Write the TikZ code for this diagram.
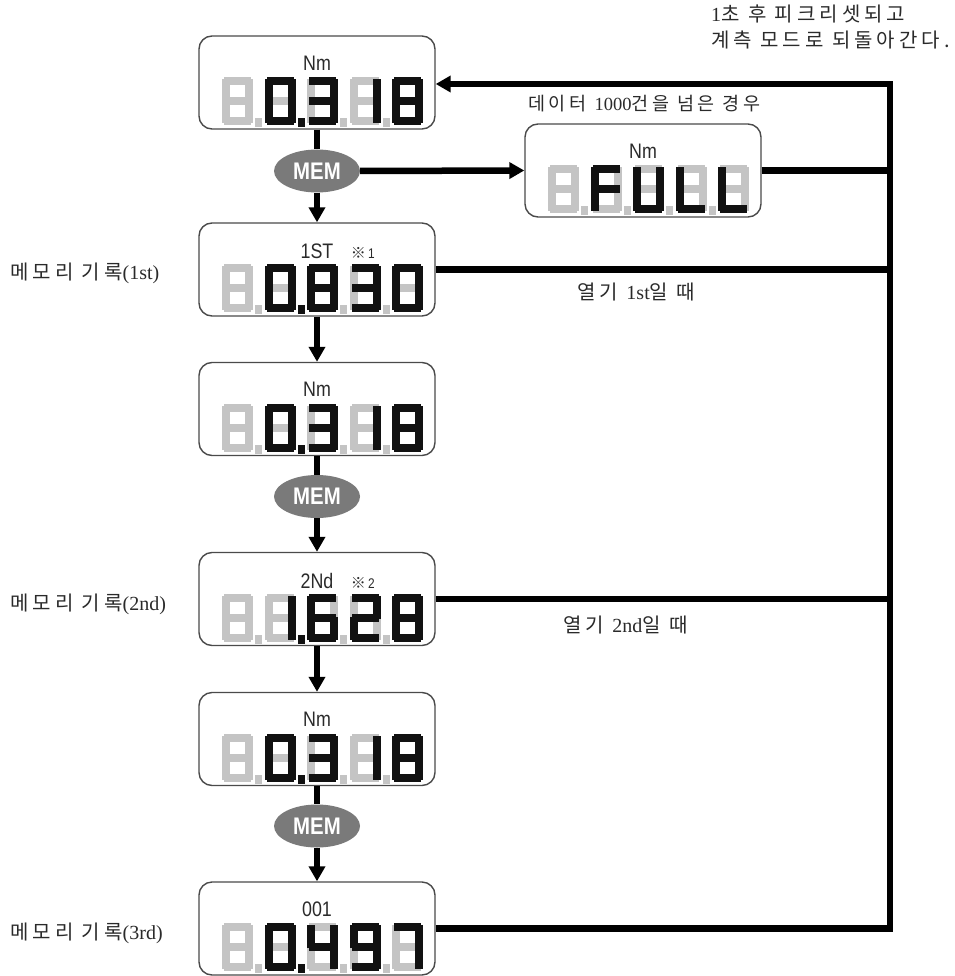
\documentclass[tikz,border=0pt]{standalone}
\usepackage{fontspec}
\setmainfont{Liberation Serif}
\newfontfamily\krf{Noto Sans CJK KR}[LetterSpace=20]
\newfontfamily\lcd{Liberation Sans}[FakeStretch=0.85]
\usetikzlibrary{arrows.meta,shapes.geometric}
\definecolor{segon}{HTML}{111111}
\definecolor{segoff}{HTML}{C4C4C4}
\definecolor{memgray}{HTML}{7A7A7A}
\definecolor{txt}{HTML}{2A2A2A}
\definecolor{boxline}{HTML}{4A4A4A}
% seven segment digit: #1 x, #2 y, #3..#9 = a b c d e f g
\newcommand\sevseg[9]{%
 \begin{scope}[shift={(#1,#2)}]
 \ifnum#3=0 \fill[segoff] (2,0) rectangle (29,8);\fi
 \ifnum#4=0 \fill[segoff] (23,2) rectangle (31,25);\fi
 \ifnum#5=0 \fill[segoff] (23,23) rectangle (31,46);\fi
 \ifnum#6=0 \fill[segoff] (2,40) rectangle (29,48);\fi
 \ifnum#7=0 \fill[segoff] (0,23) rectangle (8,46);\fi
 \ifnum#8=0 \fill[segoff] (0,2) rectangle (8,25);\fi
 \ifnum#9=0 \fill[segoff] (2,20) rectangle (29,28);\fi
 \ifnum#3=1 \fill[segon] (2,0) rectangle (29,8);\fi
 \ifnum#4=1 \fill[segon] (23,2) rectangle (31,25);\fi
 \ifnum#5=1 \fill[segon] (23,23) rectangle (31,46);\fi
 \ifnum#6=1 \fill[segon] (2,40) rectangle (29,48);\fi
 \ifnum#7=1 \fill[segon] (0,23) rectangle (8,46);\fi
 \ifnum#8=1 \fill[segon] (0,2) rectangle (8,25);\fi
 \ifnum#9=1 \fill[segon] (2,20) rectangle (29,28);\fi
 \end{scope}}
\newcommand\dB[2]{\sevseg{#1}{#2}0000000}
\newcommand\dZ[2]{\sevseg{#1}{#2}1111110}
\newcommand\dOne[2]{\sevseg{#1}{#2}0110000}
\newcommand\dTwo[2]{\sevseg{#1}{#2}1101101}
\newcommand\dThree[2]{\sevseg{#1}{#2}1111001}
\newcommand\dFour[2]{\sevseg{#1}{#2}0110011}
\newcommand\dSix[2]{\sevseg{#1}{#2}1011111}
\newcommand\dSeven[2]{\sevseg{#1}{#2}1110000}
\newcommand\dEight[2]{\sevseg{#1}{#2}1111111}
\newcommand\dNine[2]{\sevseg{#1}{#2}1111011}
\newcommand\dF[2]{\sevseg{#1}{#2}1000111}
\newcommand\dU[2]{\sevseg{#1}{#2}0111110}
\newcommand\dL[2]{\sevseg{#1}{#2}0001110}
\newcommand\Row[8]{%
 \begin{scope}[shift={(#1,#2)}]
 \foreach \xx in {33,75.5,118,160.5}{\fill[segoff] (\xx,41) rectangle ++(7,9);}
 #3{0}{0}#4{42.5}{0}#5{85}{0}#6{127.5}{0}#7{170}{0}
 \ifnum#8=2 \fill[segon] (75.5,41) rectangle ++(7,9);\fi
 \end{scope}}
\tikzset{
 disp/.style={draw=boxline, line width=1.4pt, rounded corners=13pt, minimum width=236pt, minimum height=93pt, inner sep=0pt},
 mem/.style={ellipse, fill=memgray, minimum width=86pt, minimum height=43pt, inner sep=0pt, text=white, font=\lcd\bfseries\fontsize{24}{24}\selectfont},
 conn/.style={line width=6.5pt, black, line join=miter},
 arr/.style={conn, -{Triangle[length=15pt,width=16pt]}},
 lab/.style={text=txt, font=\lcd\fontsize{21}{21}\selectfont, inner sep=0pt},
 kr/.style={text=txt, inner sep=0pt, font=\fontsize{20}{20}\selectfont},
}
\begin{document}
\begin{tikzpicture}[x=1pt,y=-1pt]
\useasboundingbox (0,0) rectangle (954,976);
% boxes
\node[disp] (b1) at (317,82.5) {};
\node[disp] (bfull) at (643,170.5) {};
\node[disp] (b1st) at (317,269.5) {};
\node[disp] (bnm2) at (317,409) {};
\node[disp] (b2nd) at (317,599) {};
\node[disp] (bnm3) at (317,739) {};
\node[disp] (b001) at (317,928.5) {};
% MEM
\node[mem] (m1) at (317,171) {MEM};
\node[mem] (m2) at (317,496.5) {MEM};
\node[mem] (m3) at (317,826) {MEM};
% box labels
\node[lab] (l1) at (317,63) {Nm};
\node[lab] (lfull) at (643,151) {Nm};
\node[lab] (l1st) at (317,251) {1ST};
\node[lab,anchor=base west] (n1) at ([xshift=17pt]l1st.base east) {{\krf\fontsize{15}{15}\selectfont ※}\fontsize{14}{14}\selectfont\,1};
\node[lab] (lnm2) at (317,389.5) {Nm};
\node[lab] (l2nd) at (317,581) {2Nd};
\node[lab,anchor=base west] (n2) at ([xshift=17pt]l2nd.base east) {{\krf\fontsize{15}{15}\selectfont ※}\fontsize{14}{14}\selectfont\,2};
\node[lab] (lnm3) at (317,719.5) {Nm};
\node[lab] (l001) at (317,909) {001};
% digits
\Row{222}{77}{\dB}{\dZ}{\dThree}{\dOne}{\dEight}{2}
\Row{548}{165}{\dB}{\dF}{\dU}{\dL}{\dL}{0}
\Row{222}{264}{\dB}{\dZ}{\dEight}{\dThree}{\dZ}{2}
\Row{222}{403.5}{\dB}{\dZ}{\dThree}{\dOne}{\dEight}{2}
\Row{222}{593.5}{\dB}{\dOne}{\dSix}{\dTwo}{\dEight}{2}
\Row{222}{733.5}{\dB}{\dZ}{\dThree}{\dOne}{\dEight}{2}
\Row{222}{923}{\dB}{\dZ}{\dFour}{\dNine}{\dSeven}{2}
% connectors
\draw[conn] (b1.south) -- (m1.north);
\draw[arr] (m1.south) -- (b1st.north);
\draw[arr] (b1st.south) -- (bnm2.north);
\draw[conn] (bnm2.south) -- (m2.north);
\draw[arr] (m2.south) -- (b2nd.north);
\draw[arr] (b2nd.south) -- (bnm3.north);
\draw[conn] (bnm3.south) -- (m3.north);
\draw[arr] (m3.south) -- (b001.north);
\draw[arr] (m1.east) -- (bfull.west);
\coordinate (bus) at (890,84);
\draw[arr] (b001.east) -- (b001.east -| bus) -- (bus) -- (b1.east |- bus);
\draw[conn] (bfull.east) -- (bfull.east -| bus);
\draw[conn] (b1st.east) -- (b1st.east -| bus);
\draw[conn] (b2nd.east) -- (b2nd.east -| bus);
% texts
\node[kr,anchor=west] (tr1) at (711,14) {1{\krf 초 후 피크리셋되고}};
\node[kr,anchor=west] (tr2) at (711,40) {{\krf 계측 모드로 되돌아간다.}};
\node[kr,anchor=west,font=\fontsize{18.5}{18.5}\selectfont] (tfull) at (528,104) {{\krf 데이터 }1000{\krf 건을 넘은 경우}};
\node[kr,anchor=west] (t1st) at (577,292) {{\krf 열기 }1st{\krf 일 때}};
\node[kr,anchor=west] (t2nd) at (563,625) {{\krf 열기 }2nd{\krf 일 때}};
\node[kr,anchor=west] (lm1) at (10,273) {{\krf 메모리 기록}(1st)};
\node[kr,anchor=west] (lm2) at (10,604) {{\krf 메모리 기록}(2nd)};
\node[kr,anchor=west] (lm3) at (10,933) {{\krf 메모리 기록}(3rd)};
\end{tikzpicture}
\end{document}
